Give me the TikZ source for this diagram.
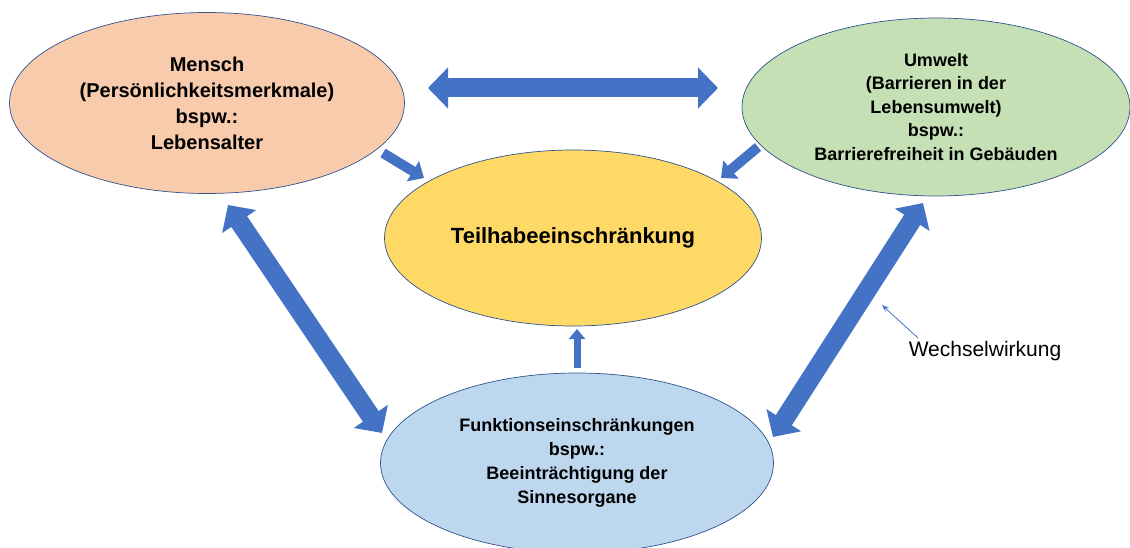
\documentclass[tikz,border=0pt]{standalone}
\usepackage{fontspec}
\setmainfont{Liberation Sans}
\usetikzlibrary{arrows.meta,shapes.geometric}
\definecolor{arrblue}{HTML}{4472C4}
\definecolor{edgeblue}{HTML}{2F528F}
\definecolor{peach}{HTML}{F8CBAD}
\definecolor{lgreen}{HTML}{C5E0B4}
\definecolor{gold}{HTML}{FFD966}
\definecolor{lblue}{HTML}{BDD7EE}
\tikzset{
  ell/.style={ellipse, draw=edgeblue, line width=0.7pt, inner sep=0pt, align=center, font=\bfseries},
  bigarrow/.style={draw=arrblue, line width=19pt, {Triangle[width=40pt,length=20pt]}-{Triangle[width=40pt,length=20pt]}},
  smallarrow/.style={draw=arrblue, line width=10pt, -{Triangle[width=23pt,length=13pt]}},
  tinyarrow/.style={draw=arrblue, line width=7pt, -{Triangle[width=16pt,length=10pt]}},
  thinarrow/.style={draw=arrblue, line width=0.8pt, -{Stealth[length=7pt,width=5pt]}}
}
\begin{document}
\begin{tikzpicture}[x=1pt,y=-1pt]
\useasboundingbox (0,0) rectangle (1130,548);
\node[ell, fill=peach, minimum width=395pt, minimum height=181pt, font=\bfseries\fontsize{20}{26}\selectfont] (mensch) at (207,103)
  {Mensch\\(Persönlichkeitsmerkmale)\\bspw.:\\Lebensalter};
\node[ell, fill=lgreen, minimum width=388pt, minimum height=178pt, font=\bfseries\fontsize{18}{23.5}\selectfont] (umwelt) at (936,107)
  {Umwelt\\(Barrieren in der\\Lebensumwelt)\\bspw.:\\Barrierefreiheit in Gebäuden};
\node[ell, fill=gold, minimum width=377pt, minimum height=176pt, font=\bfseries\fontsize{22}{26}\selectfont] (teil) at (573,238)
  {Teilhabeeinschränkung};
\node[ell, fill=lblue, minimum width=393pt, minimum height=180pt, font=\bfseries\fontsize{18}{24}\selectfont] (funk) at (577,463)
  {Funktionseinschränkungen\\bspw.:\\Beeinträchtigung der\\Sinnesorgane};
\node[font=\fontsize{21}{24}\selectfont] (ww) at (985,351) {Wechselwirkung};
% arrow end points
\coordinate (h1) at (428,88);
\coordinate (h2) at (718,88);
\coordinate (l1) at (228,205);
\coordinate (l2) at (382,433);
\coordinate (r1) at (923,203);
\coordinate (r2) at (773,437);
\coordinate (ms) at (383,153);
\coordinate (mt) at (424,178);
\coordinate (us) at (758,147);
\coordinate (ut) at (721,178);
\coordinate (fs) at (577,368);
\coordinate (ft) at (577,329);
\coordinate (ws) at (918,338);
\coordinate (wt) at (882,305);
\draw[bigarrow] (h1) -- (h2);
\draw[bigarrow] (l1) -- (l2);
\draw[bigarrow] (r1) -- (r2);
\draw[smallarrow] (ms) -- (mt);
\draw[smallarrow] (us) -- (ut);
\draw[tinyarrow] (fs) -- (ft);
\draw[thinarrow] (ws) -- (wt);
\end{tikzpicture}
\end{document}
